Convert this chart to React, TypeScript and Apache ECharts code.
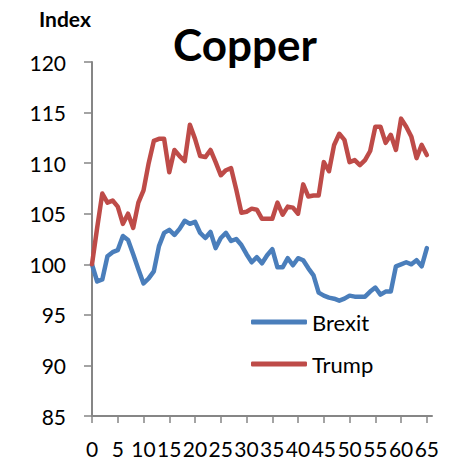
import React, { useEffect, useRef } from "react";
import * as echarts from "echarts";

// Copper price index, rebased to 100 on day 0 after each event
const brexit = [
  100.0, 98.3, 98.5, 100.8, 101.2, 101.4, 102.8, 102.4, 101.0, 99.5,
  98.1, 98.6, 99.3, 101.8, 103.1, 103.4, 102.9, 103.5, 104.3, 104.0,
  104.2, 103.1, 102.6, 103.2, 101.6, 102.6, 103.1, 102.3, 102.5, 101.9,
  101.0, 100.2, 100.7, 100.1, 100.9, 101.5, 99.7, 99.7, 100.6, 99.9,
  100.6, 100.4, 99.6, 98.9, 97.2, 96.9, 96.7, 96.6, 96.4, 96.6,
  96.9, 96.8, 96.8, 96.8, 97.3, 97.7, 97.0, 97.3, 97.3, 99.8,
  100.0, 100.2, 100.0, 100.4, 99.8, 101.6,
];

const trump = [
  100.0, 103.6, 107.0, 106.1, 106.3, 105.7, 104.0, 105.0, 103.6, 106.1,
  107.3, 110.0, 112.2, 112.4, 112.4, 109.1, 111.3, 110.7, 110.2, 113.8,
  112.4, 110.7, 110.6, 111.3, 110.1, 108.8, 109.3, 109.5, 107.4, 105.1,
  105.2, 105.5, 105.4, 104.5, 104.5, 104.5, 106.1, 104.9, 105.7, 105.6,
  105.0, 107.9, 106.7, 106.8, 106.8, 110.1, 109.2, 111.8, 112.9, 112.3,
  110.1, 110.3, 109.8, 110.3, 111.2, 113.6, 113.6, 112.0, 112.8, 111.3,
  114.4, 113.6, 112.6, 110.5, 111.8, 110.8,
];

const xTicks = [0, 5, 10, 15, 20, 25, 30, 35, 40, 45, 50, 55, 60, 65];
const seriesNames = ["Brexit", "Trump"];
const seriesColors = ["#4A7EBB", "#BE4B48"];

const FONT = "Lato, 'Noto Sans', sans-serif";

export default function App() {
  const ref = useRef<HTMLDivElement>(null);

  useEffect(() => {
    if (!ref.current) return;
    const chart = echarts.init(ref.current, undefined, { renderer: "svg" });
    const toPairs = (vals: number[]) => vals.map((v, i) => [i, v]);
    const axisGray = "#868686";

    chart.setOption({
      animation: false,
      textStyle: { fontFamily: FONT },
      title: {
        text: "Copper",
        left: 240,
        textAlign: "center",
        top: 17,
        textStyle: { fontFamily: FONT, fontSize: 44, fontWeight: "bold", color: "#000" },
      },
      graphic: [
        {
          type: "text",
          left: 39,
          top: 8,
          style: { text: "Index", fontFamily: FONT, fontSize: 21, fontWeight: "bold", fill: "#000" },
        },
      ],
      legend: {
        orient: "vertical",
        left: 246,
        top: 306,
        itemWidth: 56,
        itemHeight: 5,
        itemGap: 20,
        icon: "roundRect",
        textStyle: { fontFamily: FONT, fontSize: 22, color: "#000", lineHeight: 22 },
        data: seriesNames,
      },
      grid: { left: 92, right: 29, top: 62, bottom: 47, containLabel: false },
      xAxis: {
        type: "value",
        min: 0,
        max: 66,
        interval: 5,
        splitLine: { show: false },
        axisLine: { show: true, lineStyle: { color: axisGray, width: 2 } },
        axisTick: { show: true, length: 7, customValues: xTicks, lineStyle: { color: axisGray, width: 1.5 } },
        axisLabel: {
          customValues: xTicks,
          margin: 22,
          fontFamily: FONT,
          fontSize: 21,
          color: "#000",
        },
      },
      yAxis: {
        type: "value",
        min: 85,
        max: 120,
        interval: 5,
        splitLine: { show: false },
        axisLine: { show: true, lineStyle: { color: axisGray, width: 2 } },
        axisTick: { show: true, length: 8, lineStyle: { color: axisGray, width: 1.5 } },
        axisLabel: { margin: 26, fontFamily: FONT, fontSize: 21, color: "#000" },
      },
      series: [
        {
          name: seriesNames[0],
          type: "line",
          data: toPairs(brexit),
          showSymbol: false,
          color: seriesColors[0],
          lineStyle: { width: 4.5, color: seriesColors[0], cap: "round", join: "round" },
          z: 2,
        },
        {
          name: seriesNames[1],
          type: "line",
          data: toPairs(trump),
          showSymbol: false,
          color: seriesColors[1],
          lineStyle: { width: 4.5, color: seriesColors[1], cap: "round", join: "round" },
          z: 3,
        },
      ],
    });

    return () => chart.dispose();
  }, []);

  return (
    <div
      ref={ref}
      style={{ position: "absolute", left: 0, top: 0, width: 461, height: 463, background: "#fff" }}
    />
  );
}
